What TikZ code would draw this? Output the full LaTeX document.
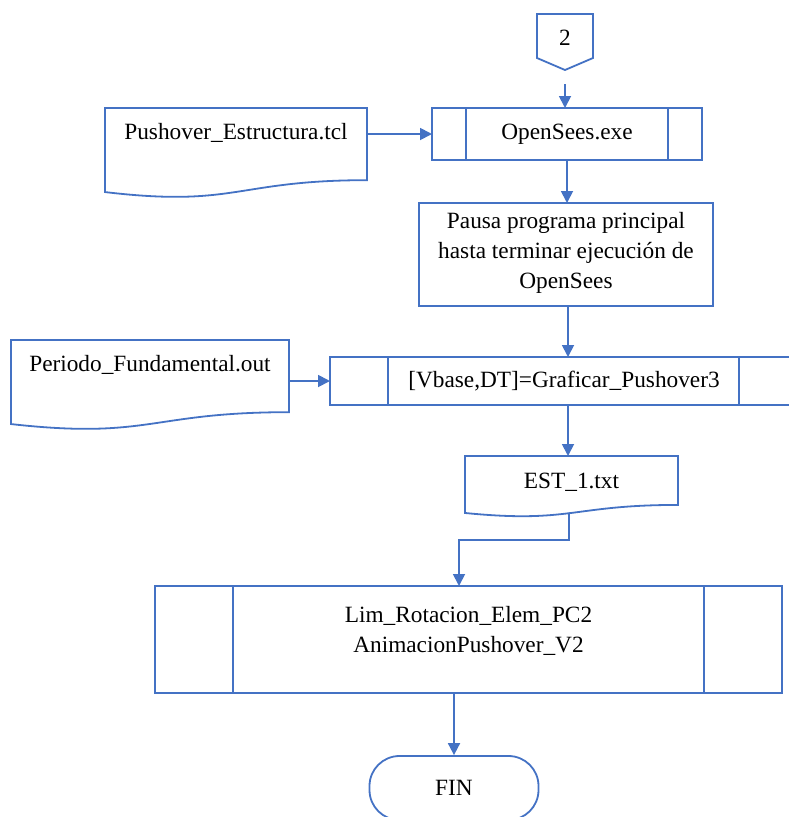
\documentclass[tikz,border=0pt]{standalone}
\usepackage{fontspec}
\setmainfont{Liberation Serif}
\usetikzlibrary{calc,arrows.meta}
\definecolor{flowblue}{HTML}{4472C4}
\tikzset{
  outline/.style={draw=flowblue, line width=1.8pt, line join=miter},
  frame/.style={rectangle, inner sep=0pt, outer sep=0pt, draw=none},
  txt/.style={font=\fontsize{23.3}{30}\selectfont, align=center, inner sep=0pt, text=black},
  flow/.style={draw=flowblue, line width=1.8pt, -{Triangle[length=12pt,width=12pt]}},
}
% document symbol with a wavy lower edge, drawn around a frame node
\newcommand\docoutline[1]{%
  \draw[outline] (#1.north west) -- (#1.north east)
    -- ($(#1.north east)!0.802!(#1.south east)$)
    .. controls ($(#1.north)!0.802!(#1.south)$) and ($(#1.north)!1.107!(#1.south)$)
    .. ($(#1.north west)!0.934!(#1.south west)$) -- cycle;}
% predefined process: box with two inner vertical bars
\newcommand\subroutine[1]{%
  \draw[outline] (#1.north west) rectangle (#1.south east);
  \draw[outline] ($(#1.north west)!0.125!(#1.north east)$) -- ($(#1.south west)!0.125!(#1.south east)$);
  \draw[outline] ($(#1.north west)!0.875!(#1.north east)$) -- ($(#1.south west)!0.875!(#1.south east)$);}
\begin{document}
\begin{tikzpicture}[x=1pt,y=-1pt]
\useasboundingbox (0,0) rectangle (789,817);
\clip (0,0) rectangle (789,817);

% off-page connector
\node[frame, minimum width=56pt, minimum height=56pt] (c2) at (565,42) {};
\draw[outline] (537,14) -- (593,14) -- (593,58) -- (565,70) -- (537,58) -- cycle;
\node[txt] (c2t) at (565,38) {2};

% OpenSees call
\node[frame, minimum width=270pt, minimum height=52pt] (os) at (567,134) {};
\subroutine{os}
\node[txt] (ost) at (567,134) {OpenSees.exe};

% input file for OpenSees
\node[frame, minimum width=262pt, minimum height=90pt] (pe) at (236,153) {};
\docoutline{pe}
\node[txt] (pet) at (236,133) {Pushover\_Estructura.tcl};

% wait step
\node[frame, minimum width=294pt, minimum height=103pt] (pa) at (566,254.5) {};
\draw[outline] (pa.north west) rectangle (pa.south east);
\node[txt] (pat) at (566,253) {Pausa programa principal\\hasta terminar ejecución de\\OpenSees};

% plotting routine
\node[frame, minimum width=467pt, minimum height=48pt] (gr) at (563.5,381) {};
\subroutine{gr}
\node[txt] (grt) at (564,381) {[Vbase,DT]=Graficar\_Pushover3};

% period file
\node[frame, minimum width=278pt, minimum height=90pt] (pd) at (150,385) {};
\docoutline{pd}
\node[txt] (pdt) at (150,365) {Periodo\_Fundamental.out};

% output file
\node[frame, minimum width=213pt, minimum height=61pt] (est) at (571.5,486.5) {};
\docoutline{est}
\node[txt] (estt) at (571.5,482) {EST\_1.txt};

% final routines
\node[frame, minimum width=627pt, minimum height=107pt] (lim) at (468.5,639.5) {};
\subroutine{lim}
\node[txt] (limt) at (468.5,631) {Lim\_Rotacion\_Elem\_PC2\\AnimacionPushover\_V2};

% end terminal
\node[outline, rectangle, rounded corners=30pt, minimum width=169pt, minimum height=64pt, inner sep=0pt, txt] (fin) at (454,788) {FIN};

% connectors
\draw[flow] (c2.south) ++(0,14) coordinate (c2tip) -- (c2tip |- os.north);
\draw[flow] (os.west -| pe.east) -- (os.west);
\draw[flow] (os.south) -- (os.south |- pa.north);
\draw[flow] ([xshift=2pt]pa.south) -- ([xshift=2pt]pa.south |- gr.north);
\draw[flow] (gr.west -| pd.east) -- (gr.west);
\draw[flow] ([xshift=4.5pt]gr.south) -- ([xshift=4.5pt]gr.south |- est.north);
\coordinate (estout) at ($(est.north)!0.933!(est.south)$);
\draw[flow] ([xshift=-2.5pt]estout) -- ([xshift=-2.5pt]est.south |- 0,540) -| ([xshift=-9.5pt]lim.north);
\draw[flow] (fin.north |- lim.south) -- (fin.north);
\end{tikzpicture}
\end{document}
